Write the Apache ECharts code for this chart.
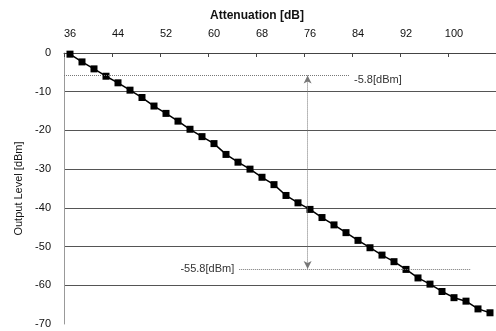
<!DOCTYPE html>
<html>
<head>
<meta charset="utf-8">
<script src="https://cdn.jsdelivr.net/npm/echarts@6/dist/echarts.min.js"></script>
<style>
html,body{margin:0;padding:0;background:#fff;}
#c{width:496px;height:331px;}
</style>
</head>
<body>
<div id="c"></div>
<script>
// Categories: attenuation [dB]
var attenuation = [36,38,40,42,44,46,48,50,52,54,56,58,60,62,64,66,68,70,72,74,76,78,80,82,84,86,88,90,92,94,96,98,100,102,104,106];
// Output level [dBm]
var outputLevel = [-0.3,-2.3,-4.1,-6.0,-7.7,-9.6,-11.5,-13.7,-15.6,-17.6,-19.7,-21.6,-23.4,-26.2,-28.2,-30.0,-32.1,-34.0,-36.8,-38.7,-40.4,-42.5,-44.4,-46.4,-48.4,-50.3,-52.2,-53.9,-55.9,-58.1,-59.7,-61.6,-63.2,-64.1,-66.1,-67.1];
// Y tick values
var yTicks = [0,-10,-20,-30,-40,-50,-60,-70];
// Annotation levels and spans (dB on a hidden value axis)
var levelHigh = -5.8, levelLow = -55.8;
var arrowAtten = 75.6;
var highSpan = [35, 82.5];
var lowSpan = [64.2, 102.8];

var chart = echarts.init(document.getElementById('c'));
var font = 'Liberation Sans, Arial, sans-serif';
chart.setOption({
  animation:false,
  title:{text:'Attenuation [dB]', left:252, top:5, textAlign:'center',
    textStyle:{fontFamily:font,fontSize:12,fontWeight:'bold',color:'#111'}},
  grid:{left:64, top:53, width:434, height:271},
  xAxis:[{
    type:'category', position:'top', data:attenuation.map(String), boundaryGap:true,
    axisLine:{lineStyle:{color:'#444',width:1}},
    axisTick:{show:true, inside:true, interval:3, length:4, lineStyle:{color:'#444'}},
    axisLabel:{interval:3, margin:14, fontFamily:font, fontSize:11, color:'#111'},
    splitLine:{show:false}
  },{
    type:'value', min:35, max:107, show:false, position:'bottom'
  }],
  yAxis:{
    type:'value', min:yTicks[yTicks.length-1], max:yTicks[0], interval:10,
    name:'Output Level [dBm]', nameLocation:'middle', nameGap:36,
    nameTextStyle:{fontFamily:font,fontSize:11,color:'#111'},
    axisLine:{show:true, lineStyle:{color:'#999',width:1}},
    axisTick:{show:false},
    axisLabel:{margin:13, fontFamily:font, fontSize:11, color:'#111'},
    splitLine:{show:true, showMinLine:false, lineStyle:{color:'#555',width:1}}
  },
  series:[{
    type:'line', data:outputLevel, xAxisIndex:0,
    symbol:'rect', symbolSize:7, showSymbol:true,
    lineStyle:{color:'#000',width:1.5},
    itemStyle:{color:'#000'}
  },{
    type:'line', xAxisIndex:1, data:[], silent:true,
    markLine:{
      silent:true, symbol:['none','none'],
      lineStyle:{type:'dotted', color:'#777', width:1},
      label:{fontFamily:font, fontSize:11, color:'#333'},
      data:[
        [{coord:[highSpan[0],levelHigh]},{coord:[highSpan[1],levelHigh],
          label:{position:'end', formatter:'-5.8[dBm]', offset:[0,5]}}],
        [{coord:[lowSpan[0],levelLow], label:{position:'start', formatter:'-55.8[dBm]', distance:5}},
         {coord:[lowSpan[1],levelLow]}],
        [{coord:[arrowAtten,levelHigh], symbol:'arrow', symbolSize:[6,8]},
         {coord:[arrowAtten,levelLow], symbol:'arrow', symbolSize:[6,8], label:{show:false}}]
      ]
    }
  }]
});
</script>
</body>
</html>
